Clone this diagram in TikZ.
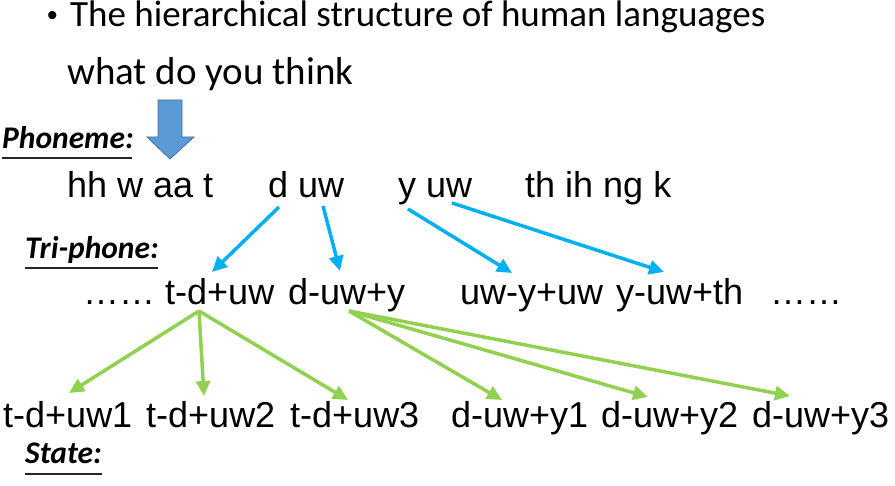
\documentclass[tikz,border=0pt]{standalone}
\usepackage{fontspec}
\setmainfont{Liberation Sans}
\newfontfamily\calib{Carlito}
\usetikzlibrary{arrows.meta}
\definecolor{cyanarr}{HTML}{00B0F0}
\definecolor{greenarr}{HTML}{92D050}
\definecolor{bigfill}{HTML}{5B9BD5}
\definecolor{bigedge}{HTML}{41719C}
\definecolor{ulgray}{HTML}{262626}
\begin{document}
\begin{tikzpicture}[x=1pt,y=-1pt,
  txt/.style={anchor=base west,inner sep=0pt,font=\fontsize{36}{40}\selectfont},
  ttl/.style={anchor=base west,inner sep=0pt,font=\calib\fontsize{37}{44}\selectfont},
  lbl/.style={anchor=base west,inner sep=0pt,font=\calib\bfseries\itshape\fontsize{31.5}{36}\selectfont},
  ul/.style={draw=ulgray,line width=1.8pt},
  bluearr/.style={draw=cyanarr,line width=3.5pt,-{Triangle[length=15pt,width=14pt]}},
  greenarr/.style={draw=greenarr,line width=3.5pt,-{Triangle[length=15pt,width=14pt]}}]
\useasboundingbox (0,0) rectangle (895,486);
% title
\node[anchor=base west,inner sep=0pt,font=\fontsize{30}{36}\selectfont] (bul) at (47,26) {•};
\node[ttl] (title) at (70,27) {The hierarchical structure of human languages};
\node[anchor=base west,inner sep=0pt,font=\calib\fontsize{39}{46}\selectfont] (sent) at (67,85) {what do you think};
% big arrow
\draw[bigedge,fill=bigfill,line width=0.8pt] (158,100) -- (182,100) -- (182,137) -- (194,137) -- (170,159) -- (147,137) -- (158,137) -- cycle;
% labels
\node[lbl] (lph) at (2,149) {Phoneme:};
\draw[ul] (lph.base west) ++(0,9) -- ++(130,0);
\node[lbl] (ltri) at (25,259) {Tri-phone:};
\draw[ul] (ltri.base west) ++(0,9) -- ++(133,0);
\node[lbl] (lst) at (25,464) {State:};
\draw[ul] (lst.base west) ++(0,10) -- ++(77,0);
% phonemes
\node[txt] (p1) at (67,198) {hh w aa t};
\node[txt] (p2) at (268,198) {d uw};
\node[txt] (p3) at (398,198) {y uw};
\node[txt] (p4) at (525,198) {th ih ng k};
% triphones
\node[txt] (t0) at (83,305) {……};
\node[txt] (t1) at (165,305) {t-d+uw};
\node[txt] (t2) at (288,305) {d-uw+y};
\node[txt] (t3) at (460,305) {uw-y+uw};
\node[txt] (t4) at (616,305) {y-uw+th};
\node[txt] (t5) at (770,305) {……};
% states
\node[txt] (s1) at (3,428) {t-d+uw1};
\node[txt] (s2) at (146,428) {t-d+uw2};
\node[txt] (s3) at (290,428) {t-d+uw3};
\node[txt] (s4) at (451,428) {d-uw+y1};
\node[txt] (s5) at (601,428) {d-uw+y2};
\node[txt] (s6) at (752,428) {d-uw+y3};
% blue arrows
\draw[bluearr] ([shift={(11,9)}]p2.base west) -- ([shift={(47,-33)}]t1.base west);
\draw[bluearr] ([shift={(55,8)}]p2.base west) -- ([shift={(52,-34)}]t2.base west);
\draw[bluearr] ([shift={(10,11)}]p3.base west) -- ([shift={(52,-32)}]t3.base west);
\draw[bluearr] ([shift={(54,5)}]p3.base west) -- ([shift={(48,-33)}]t4.base west);
% green arrows
\coordinate (g1) at ([shift={(34,6)}]t1.base west);
\coordinate (g2) at ([shift={(61,6)}]t2.base west);
\draw[greenarr] (g1) -- ([shift={(66,-35)}]s1.base west);
\draw[greenarr] (g1) -- ([shift={(58,-32)}]s2.base west);
\draw[greenarr] (g1) -- ([shift={(58,-28)}]s3.base west);
\draw[greenarr] (g2) -- ([shift={(51,-28)}]s4.base west);
\draw[greenarr] (g2) -- ([shift={(47,-31)}]s5.base west);
\draw[greenarr] (g2) -- ([shift={(38,-32)}]s6.base west);
\end{tikzpicture}
\end{document}
